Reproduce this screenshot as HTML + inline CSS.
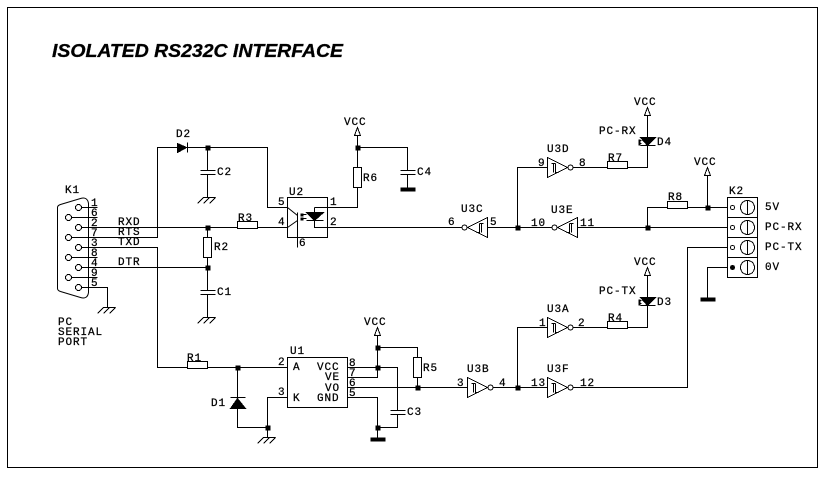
<!DOCTYPE html>
<html>
<head>
<meta charset="utf-8">
<title>Isolated RS232C Interface</title>
<style>
html,body{margin:0;padding:0;background:#fff;width:827px;height:478px;overflow:hidden}
svg{display:block}
text{font-family:"Liberation Mono",monospace;font-size:11px;letter-spacing:.9px;fill:#000;stroke:#000;stroke-width:.25px}
text.title{font-family:"Liberation Sans",sans-serif;font-size:18px;font-weight:bold;font-style:italic;letter-spacing:0;stroke-width:.3px}
.w{fill:none;stroke:#000;stroke-width:1;shape-rendering:crispEdges}
.a{fill:none;stroke:#000;stroke-width:1;shape-rendering:crispEdges}
.k{fill:#000;stroke:none;shape-rendering:crispEdges}
.c{fill:#fff;stroke:#000;stroke-width:1;shape-rendering:crispEdges}
.s{fill:#000;stroke:#000;stroke-width:1;shape-rendering:crispEdges}
</style>
</head>
<body>
<svg width="827" height="478" viewBox="0 0 827 478" xmlns="http://www.w3.org/2000/svg">
<defs>
<g id="gnd"><path class="a" d="M-4 0H8M-4 0L-10 6M2 0L-4 6M8 0L2 6"/></g>
<g id="vcc"><path class="c" d="M0 -8L3 0H-3Z"/></g>
<g id="dot"><rect class="k" x="-2" y="-2" width="5" height="5"/></g>
<g id="rh"><rect class="c" x="0" y="-3" width="20" height="7"/></g>
<g id="rv"><rect class="c" x="-4" y="0" width="8" height="20"/></g>
<g id="gate">
<path class="c" d="M0 -10L20 0L0 10Z"/>
<circle class="c" cx="23" cy="0" r="2.5"/>
<path class="a" d="M4 -4H8M6 -4V5M8 -4V5H11"/>
</g>
<g id="led">
<path class="s" d="M-7 0H8L0 8Z"/>
<path class="a" d="M-7 8H8M-9 3H-6M-9 6H-6"/>
<rect class="k" x="-9" y="2" width="2" height="6"/>
</g>
<g id="term">
<rect class="c" x="0" y="0" width="30" height="20"/>
<circle class="a" cx="20" cy="10" r="7"/>
<path class="a" d="M20 3V17"/>
</g>
</defs>
<g transform="translate(.5 .5)">
<rect class="w" x="7" y="7" width="810" height="460"/>

<!-- K1 -->
<path class="a" style="shape-rendering:auto" d="M57 207Q57 205 60 204L80 198Q87 196 88 203V292Q87 299 80 297L60 291Q57 290 57 288Z"/>
<path class="w" d="M78 207H97M68 217H97M68 237H157V147H177M78 247H157V367H187M68 257H97M68 277H97M78 287H107V307M78 227H237M78 267H207"/>
<circle class="c" cx="78" cy="207" r="3"/><circle class="c" cx="68" cy="217" r="3"/>
<circle class="c" cx="78" cy="227" r="3"/><circle class="c" cx="68" cy="237" r="3"/>
<circle class="c" cx="78" cy="247" r="3"/><circle class="c" cx="68" cy="257" r="3"/>
<circle class="c" cx="78" cy="267" r="3"/><circle class="c" cx="68" cy="277" r="3"/>
<circle class="c" cx="78" cy="287" r="3"/>
<use href="#gnd" x="107" y="307"/>

<!-- D2, C2 -->
<path class="s" d="M177 143L186 147L177 152Z"/>
<path class="w" d="M187 142V152M187 147H267V207H287M207 147V170M200 170H215M200 174H215M207 174V197"/>
<use href="#gnd" x="207" y="197"/>
<use href="#dot" x="207" y="147"/>

<!-- R2, R3, C1 -->
<path class="w" d="M207 227V237M207 257V290M200 290H215M200 294H215M207 294V317M257 227H287"/>
<use href="#rv" x="207" y="237"/>
<use href="#rh" x="237" y="224"/>
<use href="#dot" x="207" y="227"/><use href="#dot" x="207" y="267"/>
<use href="#gnd" x="207" y="317"/>

<!-- U2 -->
<rect class="c" x="287" y="197" width="40" height="40"/>
<path class="w" d="M297 212V247M327 207H357V187M357 167V147M357 147V135M357 147H407V170M400 170H415M400 174H415M407 174V187M327 227H461M314 207V212M314 207H327M314 220V227H327M306 220H323"/>
<path class="a" style="shape-rendering:auto" d="M287 207L297 215M297 220L287 227"/>
<path class="s" d="M306 212H323L314 220Z"/>
<path class="w" d="M300 214H306M300 218H306"/>
<rect class="k" x="300" y="213" width="3" height="3"/><rect class="k" x="300" y="217" width="3" height="3"/>
<use href="#rv" x="357" y="167"/>
<use href="#dot" x="357" y="147"/>
<use href="#vcc" x="357" y="135"/>
<rect class="k" x="400" y="187" width="15" height="4"/>

<!-- right top -->
<use href="#gate" transform="translate(487 227) scale(-1 1)"/>
<path class="w" d="M487 227H551M517 227V167H547M572 167H607M627 167H647V115M577 227H727M647 227V207H667M687 207H727M707 207V175"/>
<use href="#gate" x="547" y="167"/>
<use href="#gate" transform="translate(577 227) scale(-1 1)"/>
<use href="#rh" x="607" y="164"/>
<use href="#rh" x="667" y="204"/>
<use href="#led" x="647" y="137"/>
<use href="#vcc" x="647" y="115"/>
<use href="#vcc" x="707" y="175"/>
<use href="#dot" x="517" y="227"/><use href="#dot" x="647" y="227"/><use href="#dot" x="707" y="207"/>

<!-- K2 -->
<use href="#term" x="727" y="197"/><use href="#term" x="727" y="217"/>
<use href="#term" x="727" y="237"/><use href="#term" x="727" y="257"/>
<circle class="a" cx="732" cy="207" r="2"/><circle class="a" cx="732" cy="227" r="2"/>
<circle class="a" cx="732" cy="247" r="2"/><circle class="s" cx="732" cy="267" r="2"/>
<path class="w" d="M727 247H687V387H573M727 267H707V297"/>
<rect class="k" x="700" y="297" width="15" height="4"/>

<!-- U1 -->
<use href="#rh" x="187" y="364"/>
<path class="w" d="M207 367H287M237 367V397M237 408V427H267M267 437V397H287M230 397H245M347 367H397V410M390 410H405M390 414H405M397 414V427H377M347 377H377V335M377 347H417V357M417 377V387M347 387H467M347 397H377V437"/>
<path class="s" d="M230 408H245L237 398Z"/>
<rect class="c" x="287" y="357" width="60" height="50"/>
<path class="w" d="M377 367V377"/>
<use href="#rv" x="417" y="357"/>
<use href="#vcc" x="377" y="335"/>
<use href="#gnd" x="267" y="437"/>
<rect class="k" x="370" y="437" width="15" height="4"/>
<use href="#dot" x="237" y="367"/><use href="#dot" x="267" y="427"/>
<use href="#dot" x="377" y="347"/><use href="#dot" x="377" y="367"/>
<use href="#dot" x="417" y="387"/><use href="#dot" x="377" y="427"/>

<!-- bottom right -->
<use href="#gate" x="467" y="387"/>
<path class="w" d="M493 387H547M517 387V327H547M573 327H607M627 327H647V275"/>
<use href="#gate" x="547" y="327"/>
<use href="#gate" x="547" y="387"/>
<use href="#rh" x="607" y="324"/>
<use href="#led" x="647" y="297"/>
<use href="#vcc" x="647" y="275"/>
<use href="#dot" x="517" y="387"/>
</g>

<text class="title" x="52" y="57" textLength="291" lengthAdjust="spacingAndGlyphs">ISOLATED RS232C INTERFACE</text>

<text x="65" y="193">K1</text>
<text x="91" y="206">1</text><text x="91" y="216">6</text><text x="91" y="226">2</text>
<text x="91" y="236">7</text><text x="91" y="246">3</text><text x="91" y="256">8</text>
<text x="91" y="266">4</text><text x="91" y="276">9</text><text x="91" y="286">5</text>
<text x="118" y="225">RXD</text><text x="118" y="235">RTS</text><text x="118" y="245">TXD</text><text x="118" y="265">DTR</text>
<text x="58" y="325">PC</text><text x="58" y="335">SERIAL</text><text x="58" y="345">PORT</text>
<text x="176" y="137">D2</text><text x="217" y="175">C2</text>
<text x="238" y="221">R3</text><text x="214" y="250">R2</text><text x="217" y="295">C1</text>

<text x="289" y="195">U2</text>
<text x="278" y="205">5</text><text x="278" y="225">4</text>
<text x="330" y="205">1</text><text x="330" y="225">2</text><text x="299" y="246">6</text>
<text x="344" y="125">VCC</text><text x="363" y="181">R6</text><text x="417" y="175">C4</text>

<text x="461" y="212">U3C</text><text x="448" y="225">6</text><text x="490" y="225">5</text>
<text x="547" y="152">U3D</text><text x="538" y="166">9</text><text x="579" y="166">8</text>
<text x="608" y="161">R7</text><text x="634" y="105">VCC</text>
<text x="599" y="134">PC-RX</text><text x="657" y="145">D4</text>
<text x="551" y="213">U3E</text><text x="531" y="226">10</text><text x="580" y="226">11</text>
<text x="668" y="200">R8</text><text x="694" y="165">VCC</text>
<text x="729" y="194">K2</text>
<text x="765" y="210">5V</text><text x="765" y="230">PC-RX</text><text x="765" y="250">PC-TX</text><text x="765" y="270">0V</text>

<text x="187" y="361">R1</text><text x="211" y="406">D1</text>
<text x="290" y="354">U1</text>
<text x="278" y="365">2</text><text x="278" y="395">3</text>
<text x="293" y="370">A</text><text x="293" y="401">K</text>
<text x="317" y="370">VCC</text><text x="325" y="380">VE</text><text x="325" y="391">VO</text><text x="317" y="401">GND</text>
<text x="349" y="366">8</text><text x="349" y="376">7</text><text x="349" y="386">6</text><text x="349" y="396">5</text>
<text x="364" y="325">VCC</text><text x="423" y="371">R5</text><text x="407" y="415">C3</text>

<text x="467" y="372">U3B</text><text x="457" y="386">3</text><text x="499" y="386">4</text>
<text x="547" y="372">U3F</text><text x="531" y="386">13</text><text x="580" y="386">12</text>
<text x="547" y="312">U3A</text><text x="539" y="326">1</text><text x="578" y="326">2</text>
<text x="608" y="321">R4</text><text x="634" y="265">VCC</text>
<text x="599" y="294">PC-TX</text><text x="657" y="305">D3</text>
</svg>
</body>
</html>
